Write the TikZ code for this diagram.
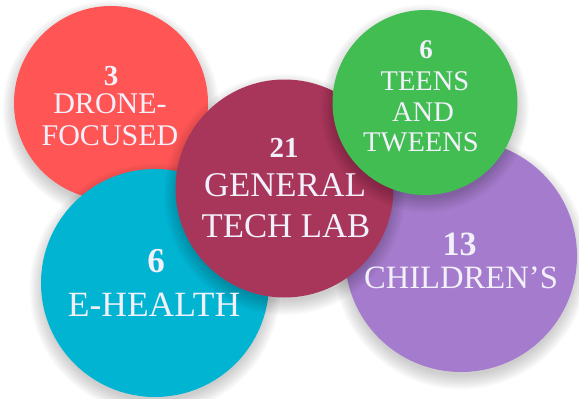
\documentclass[tikz,border=0pt]{standalone}
\usepackage{fontspec}
\setmainfont{Liberation Serif}
\definecolor{cred}{RGB}{255,85,85}
\definecolor{ccyan}{RGB}{0,180,210}
\definecolor{cpurple}{RGB}{165,123,205}
\definecolor{ccrimson}{RGB}{168,54,90}
\definecolor{cgreen}{RGB}{65,189,82}
\definecolor{txt}{RGB}{242,240,250}
\tikzset{
  bubble/.style={circle, inner sep=0pt, minimum size=#1},
  lbl/.style={text=txt, anchor=base, inner sep=0pt},
}
\newcommand{\softshade}[3]{%
  \foreach \k in {1,...,9}{\fill[black,opacity=0.024] (#1,#2+6) circle ({#3-4+\k*1.7});}}
\newcommand{\fs}[1]{\fontsize{#1}{#1}\selectfont}
\begin{document}
\begin{tikzpicture}[x=1pt,y=-1pt]
\useasboundingbox (0,0) rectangle (579,399);
% red
\softshade{111}{103}{97}
\node[bubble=194pt, fill=cred] (red) at (111,103) {};
% cyan
\softshade{155}{283}{114}
\node[bubble=228pt, fill=ccyan] (cyan) at (155,283) {};
% purple
\softshade{461}{256}{116}
\node[bubble=232pt, fill=cpurple] (purple) at (461,256) {};
% crimson
\softshade{284.5}{188.5}{109}
\node[bubble=218pt, fill=ccrimson] (crimson) at (284.5,188.5) {};
% green
\softshade{425}{102.5}{92.5}
\node[bubble=185pt, fill=cgreen] (green) at (425,102.5) {};
% labels
\node[lbl] (r1) at (111,85) {\fs{29}\bfseries 3};
\node[lbl] (r2) at (110,113) {\fs{30}DRONE-};
\node[lbl] (r3) at (110,145) {\fs{30}FOCUSED};
\node[lbl] (g1) at (426,58) {\fs{27}\bfseries 6};
\node[lbl] (g2) at (425,90) {\fs{28.5}TEENS};
\node[lbl] (g3) at (423,121.7) {\fs{28.5}AND};
\node[lbl] (g4) at (421,151.7) {\fs{28.5}TWEENS};
\node[lbl] (c1) at (156,272) {\fs{35}\bfseries 6};
\node[lbl] (c2) at (154,316.7) {\fs{35.5}E-HEALTH};
\node[lbl] (p1) at (459.5,255) {\fs{34}\bfseries 13};
\node[lbl] (p2) at (461,288.3) {\fs{32.6}CHILDREN’S};
\node[lbl] (m1) at (284,157.5) {\fs{29}\bfseries 21};
\node[lbl] (m2) at (285,196) {\fs{34.7}GENERAL};
\node[lbl] (m3) at (286,237) {\fs{34.7}TECH LAB};
\end{tikzpicture}
\end{document}
